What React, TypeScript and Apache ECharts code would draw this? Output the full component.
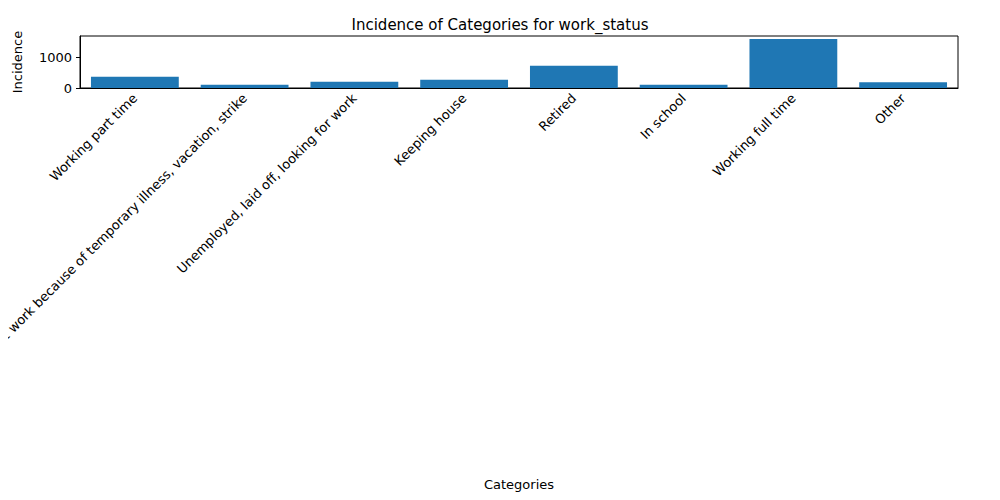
import React, { useEffect, useRef } from "react";
import * as echarts from "echarts";

const categories = ["Working part time", "With a job, but not at work because of temporary illness, vacation, strike", "Unemployed, laid off, looking for work", "Keeping house", "Retired", "In school", "Working full time", "Other"];
const values = [370, 109, 207, 272, 728, 109, 1609, 185];

export default function App() {
  const ref = useRef<HTMLDivElement>(null);
  useEffect(() => {
    const chart = echarts.init(ref.current!, null, { renderer: "svg" });
    const font = "DejaVu Sans";
    chart.setOption({
      animation: false,
      textStyle: { fontFamily: font },
      title: { text: "Incidence of Categories for work_status", left: "center", top: 12, textStyle: { fontFamily: font, fontSize: 15, fontWeight: "normal", color: "#000" } },
      grid: { left: 80, right: 42, top: 36, height: 52, containLabel: false, outerBoundsMode: "none", show: true, borderColor: "#000", borderWidth: 1 },
      xAxis: {
        type: "category", data: categories, name: "Categories", nameLocation: "middle", nameGap: 390,
        nameTextStyle: { fontSize: 13, color: "#000" },
        axisLine: { lineStyle: { color: "#000" } },
        axisTick: { alignWithLabel: true, lineStyle: { color: "#000" }, length: 4 },
        axisLabel: { rotate: 45, interval: 0, fontSize: 13, color: "#000", margin: 8 },
      },
      yAxis: {
        type: "value", min: 0, max: 1707, interval: 1000, name: "Incidence", nameLocation: "middle", nameGap: 56,
        nameTextStyle: { fontSize: 13, color: "#000" },
        axisLine: { show: true, lineStyle: { color: "#000" } },
        axisTick: { show: true, lineStyle: { color: "#000" }, length: 4 },
        axisLabel: { fontSize: 13, color: "#000", showMaxLabel: false, formatter: (v: number) => String(v) },
        splitLine: { show: false },
      },
      series: [{ type: "bar", data: values, barWidth: "80%", itemStyle: { color: "#1f77b4" } }],
    });
    return () => chart.dispose();
  }, []);
  return <div ref={ref} style={{ width: 1000, height: 500, margin: -8 }} />;
}
